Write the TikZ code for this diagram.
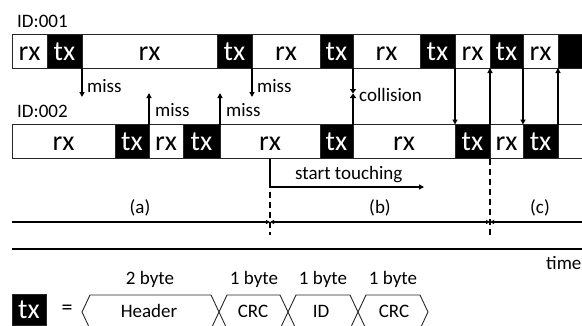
\documentclass[tikz,border=0pt]{standalone}
\usepackage{fontspec}
\setmainfont{Carlito}
\usetikzlibrary{arrows.meta}
\tikzset{
  cellbase/.style={draw=black!85, line width=0.9pt, inner sep=0pt, outer sep=0pt,
    minimum height=34pt, text height=18pt, text depth=0pt,
    font=\fontsize{28}{28}\selectfont},
  rxc/.style={cellbase, fill=white, text=black},
  txc/.style={cellbase, fill=black, text=white},
  lbl/.style={font=\fontsize{19}{19}\selectfont, inner sep=0pt, anchor=base west},
  clbl/.style={font=\fontsize{19}{19}\selectfont, inner sep=0pt, anchor=base},
  arr/.style={line width=1.3pt, -{Triangle[length=5pt,width=5pt]}},
  colarr/.style={line width=1.3pt, -{Triangle[length=4.5pt,width=6pt]}},
  parr/.style={line width=1.2pt},
  dsh/.style={line width=1.3pt, dash pattern=on 6pt off 4pt},
  shp/.style={draw=black!85, line width=0.9pt, line join=miter},
}
\newcommand\mkcell[6]{\node[#5, minimum width={#3pt-#2pt}] (#1) at ({(#2+#3)/2},#4) {#6};}
\begin{document}
\begin{tikzpicture}[x=1pt,y=-1pt]
\useasboundingbox (0,0) rectangle (582,325);

% labels of rows
\node[lbl] (id1) at (17,27) {ID:001};
\node[lbl] (id2) at (17,117) {ID:002};

% row 1
\mkcell{a1}{12}{47}{51}{rxc}{rx}
\mkcell{b1}{47}{82}{51}{txc}{tx}
\mkcell{c1}{82}{217}{51}{rxc}{rx}
\mkcell{d1}{217}{252}{51}{txc}{tx}
\mkcell{e1}{252}{320}{51}{rxc}{rx}
\mkcell{f1}{320}{353}{51}{txc}{tx}
\mkcell{g1}{353}{420}{51}{rxc}{rx}
\mkcell{h1}{420}{455}{51}{txc}{tx}
\mkcell{i1}{455}{490}{51}{rxc}{rx}
\mkcell{j1}{490}{523}{51}{txc}{tx}
\mkcell{k1}{523}{558}{51}{rxc}{rx}
\mkcell{l1}{558}{600}{51}{txc}{}

% row 2
\mkcell{a2}{12}{115}{141.5}{rxc}{rx}
\mkcell{b2}{115}{149}{141.5}{txc}{tx}
\mkcell{c2}{149}{183}{141.5}{rxc}{rx}
\mkcell{d2}{183}{220}{141.5}{txc}{tx}
\mkcell{e2}{220}{320}{141.5}{rxc}{rx}
\mkcell{f2}{320}{353}{141.5}{txc}{tx}
\mkcell{g2}{353}{455}{141.5}{rxc}{rx}
\mkcell{h2}{455}{490}{141.5}{txc}{tx}
\mkcell{i2}{490}{523}{141.5}{rxc}{rx}
\mkcell{j2}{523}{558}{141.5}{txc}{tx}
\mkcell{k2}{558}{600}{141.5}{rxc}{}

% miss arrows
\coordinate (m1) at (82,97);
\coordinate (m2) at (252,97);
\coordinate (m3) at (149,93);
\coordinate (m4) at (220,93);
\draw[arr] (b1.south east) -- (m1);
\draw[arr] (d1.south east) -- (m2);
\draw[arr] (b2.north east) -- (m3);
\draw[arr] (d2.north east) -- (m4);
\node[lbl] (ms1) at (87,92) {miss};
\node[lbl] (ms2) at (257,92) {miss};
\node[lbl] (ms3) at (155,116) {miss};
\node[lbl] (ms4) at (226,116) {miss};

% collision
\coordinate (col) at (353,93.5);
\draw[colarr] (f1.south east) -- (col);
\draw[colarr] (f2.north east) -- (col);
\node[lbl] (coll) at (359,101.5) {collision};

% (c) exchanges
\draw[arr] (h1.south east) -- (h2.north west);
\draw[arr] (h2.north east) -- (j1.south west);
\draw[arr] (j1.south east) -- (j2.north west);
\draw[arr] (j2.north east) -- (l1.south west);

% start touching
\coordinate (stc) at (270,187);
\coordinate (ste) at (424,187);
\draw[arr] (e2.south) -- (stc) -- (ste);
\node[lbl] (stt) at (295,179) {start touching};

% dashed separators
\coordinate (d1e) at (270,235);
\coordinate (d2e) at (490,235);
\draw[dsh] ([yshift=-5pt]stc) -- (d1e);
\draw[dsh] (h2.south east) -- (d2e);

% period arrows
\coordinate (p0) at (12,222);
\coordinate (p1) at (270,222);
\coordinate (p2) at (490,222);
\coordinate (p3) at (590,222);
\draw[parr, -{Triangle[length=4pt,width=4pt]}] (p0) -- (p1);
\draw[parr, {Triangle[length=4pt,width=4pt]}-{Triangle[length=4pt,width=4pt]}] (p1) -- (p2);
\draw[parr, {Triangle[length=4pt,width=4pt]}-] (p2) -- (p3);
\node[clbl] (la) at (140,213) {(a)};
\node[clbl] (lb) at (380,213) {(b)};
\node[clbl] (lc) at (540,213) {(c)};

% time axis
\coordinate (t0) at (12,249);
\coordinate (t1) at (590,249);
\draw[line width=2pt] (t0) -- (t1);
\node[lbl] (time) at (546,269) {time};

% legend
\node[txc, minimum width=34pt, minimum height=31pt] (ltx) at (29,309.5) {tx};
\node[font=\fontsize{22}{22}\selectfont, inner sep=0pt] (eq) at (67,310) {=};
\draw[shp] (82,312) -- (90,295) -- (211,295) -- (219,312) -- (211,329) -- (90,329) -- cycle;
\draw[shp] (219,312) -- (227,295) -- (280,295) -- (288,312) -- (280,329) -- (227,329) -- cycle;
\draw[shp] (288,312) -- (296,295) -- (350,295) -- (358,312) -- (350,329) -- (296,329) -- cycle;
\draw[shp] (358,312) -- (366,295) -- (420,295) -- (428,312) -- (420,329) -- (366,329) -- cycle;
\node[clbl] (hdr) at (149,317) {Header};
\node[clbl] (crc1) at (253,317) {CRC};
\node[clbl] (idf) at (321,317) {ID};
\node[clbl] (crc2) at (394,317) {CRC};
\node[clbl] (b2b) at (150,284) {2 byte};
\node[clbl] (b1a) at (254,284) {1 byte};
\node[clbl] (b1b) at (323,284) {1 byte};
\node[clbl] (b1c) at (393,284) {1 byte};
\end{tikzpicture}
\end{document}
